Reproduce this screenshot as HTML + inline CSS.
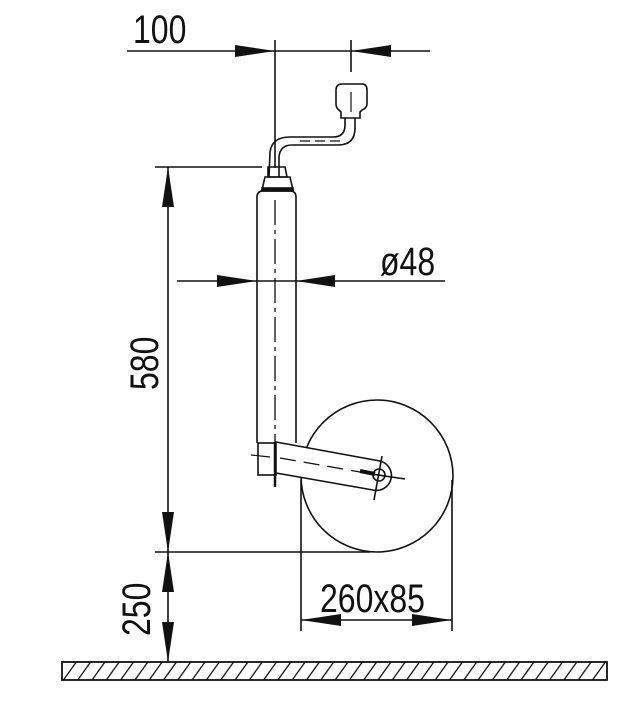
<!DOCTYPE html>
<html><head><meta charset="utf-8"><style>
html,body{margin:0;padding:0;background:#fff;}
svg{display:block}
text{font-family:"Liberation Sans",sans-serif;fill:#111;}
</style></head><body>
<svg width="640" height="706" viewBox="0 0 640 706" xmlns="http://www.w3.org/2000/svg">
<defs>
<pattern id="h" width="14.3" height="20" patternUnits="userSpaceOnUse" x="62" y="662">
<line x1="0" y1="20" x2="14.3" y2="0" stroke="#111" stroke-width="1.3"/>
<line x1="-14.3" y1="20" x2="0" y2="0" stroke="#111" stroke-width="1.3"/>
<line x1="14.3" y1="20" x2="28.6" y2="0" stroke="#111" stroke-width="1.3"/>
</pattern>
</defs>
<g stroke="#111" fill="none" stroke-width="1.6">
<!-- ground -->
<rect x="62" y="662" width="545" height="18" fill="url(#h)" stroke-width="1.8"/>
<!-- 100 dimension -->
<line x1="127" y1="51" x2="430" y2="51"/>
<line x1="275" y1="40" x2="275" y2="168"/>
<line x1="351" y1="40" x2="351" y2="72"/>
<!-- crank -->
<path d="M345 118 L345 125 Q345 137 333 137 L290 137 Q272 137 270 152 L269 177" />
<path d="M355 118 L355 128 Q355 145 338 145 L292 145 Q280 145 279 157 L279 177" />
<line x1="300" y1="141" x2="345" y2="141" stroke-dasharray="10,5" stroke-width="1.2"/>
<path d="M344 84 L362 84 Q367 84 367 90 L367 104 Q367 108 362 110 L360 112 L360 118 L341 118 L341 112 L339 110 Q336 108 336 104 L336 90 Q336 84 342 84 Z"/>
<line x1="351" y1="92" x2="351" y2="112" stroke-width="1.2"/>
<!-- collar -->
<path d="M268 167 L285 167 L287 177 L268 177 Z"/>
<path d="M265 177 L290 177 L293 190 L262 190 Z"/>
<rect x="262" y="188" width="31" height="3" fill="#111"/>
<!-- tube -->
<path d="M257 443 L257 197 Q257 191 263 191 L290 191 Q296 191 296 197 L296 443"/>
<line x1="275" y1="200" x2="275" y2="478" stroke-dasharray="25,5,4,5" stroke-width="1.3"/>
<!-- lower block -->
<rect x="258" y="443" width="18" height="32"/>
<line x1="251" y1="455" x2="270" y2="457" stroke-width="1.2"/>
<line x1="275" y1="443" x2="275" y2="487" stroke-width="2.5"/>
<!-- wheel -->
<circle cx="377" cy="476" r="76" fill="#fff"/>
<!-- arm -->
<path d="M276 442 L380 461 A14 14 0 0 1 373 490 L276 473 Z" fill="#fff"/>
<line x1="280" y1="458" x2="360" y2="472" stroke-dasharray="16,8" stroke-width="1.3"/>
<line x1="360" y1="471" x2="375" y2="474" stroke-width="4"/>
<circle cx="379" cy="475" r="6"/>
<line x1="382" y1="456" x2="374" y2="500"/>
<line x1="365" y1="473" x2="405" y2="479"/>
<!-- 48 dimension -->
<line x1="177" y1="281" x2="445" y2="281"/>
<!-- 580 / 250 dims -->
<line x1="155" y1="167" x2="262" y2="167"/>
<line x1="155" y1="552" x2="370" y2="552"/>
<line x1="168" y1="167" x2="168" y2="662"/>
<!-- 260x85 -->
<line x1="301" y1="480" x2="301" y2="631"/>
<line x1="452" y1="480" x2="452" y2="631"/>
<line x1="301" y1="620" x2="452" y2="620"/>
</g>
<g fill="#111">
<polygon points="235,45 275,51 235,57"/>
<polygon points="391,45 351,51 391,57"/>
<polygon points="217,275 257,281 217,287"/>
<polygon points="335,275 296,281 335,287"/>
<polygon points="162,207 168,167 174,207"/>
<polygon points="162,512 168,552 174,512"/>
<polygon points="162,592 168,552 174,592"/>
<polygon points="162,622 168,662 174,622"/>
<polygon points="341,614 301,620 341,626"/>
<polygon points="412,614 452,620 412,626"/>
</g>
<g font-size="40">
<text transform="translate(133,43) scale(0.8,1)">100</text>
<text transform="translate(380,275) scale(0.8,1)">ø48</text>
<text transform="translate(320,612) scale(0.8,1)">260x85</text>
<text transform="translate(158,390) rotate(-90) scale(0.8,1)">580</text>
<text transform="translate(150,636) rotate(-90) scale(0.8,1)">250</text>
</g>
</svg>
</body></html>
